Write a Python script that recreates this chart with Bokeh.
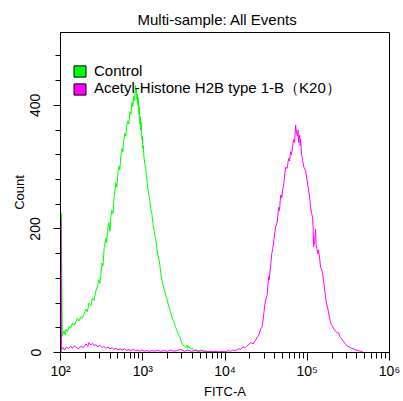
from bokeh.plotting import figure
from bokeh.models import Range1d, FixedTicker, Legend, LegendItem, ColumnDataSource
from bokeh.embed import file_html
from bokeh.resources import INLINE

# ---- data ----
control_fitc = [102, 102, 105, 107, 110, 114, 117, 122, 127, 134, 140, 147, 154, 160, 168, 177,
                185, 193, 204, 212, 222, 234, 245, 255, 270, 282, 293, 300, 310, 320, 328, 340,
                357, 365, 375, 388, 400, 410, 420, 435, 446, 460, 472, 485, 499, 513, 527, 542,
                557, 573, 590, 607, 624, 640, 660, 678, 698, 718, 738, 759, 780, 802, 815, 825,
                836, 848, 860, 872, 885, 897, 910, 922, 935, 948, 961, 975, 990, 1003, 1020, 1031,
                1060, 1091, 1120, 1153, 1190, 1220, 1254, 1290, 1327, 1380, 1443, 1480, 1525, 1580,
                1620, 1658, 1700, 1753, 1830, 1906, 1980, 2073, 2130, 2192, 2280, 2384, 2450, 2521,
                2620, 2742, 2820, 2899, 2980, 3066, 3200, 3334, 3450, 3525, 3650, 3834, 4000, 4200,
                4409, 4700, 5070, 5400, 5830, 6300, 6704, 7200, 7709, 8300, 8865, 10194]
control_count = [0, 225, 26, 30, 35, 28, 38, 33, 42, 40, 48, 44, 50, 55, 51, 58,
                 56, 62, 70, 66, 80, 76, 88, 84, 100, 108, 118, 112, 125, 145, 140, 170,
                 185, 178, 200, 210, 196, 220, 230, 225, 248, 262, 275, 268, 290, 302, 296, 318,
                 330, 325, 345, 355, 350, 368, 375, 370, 390, 385, 405, 398, 415, 408, 432, 420,
                 428, 410, 418, 400, 412, 385, 398, 370, 382, 360, 372, 345, 350, 330, 335, 318,
                 305, 296, 280, 265, 255, 245, 232, 225, 210, 196, 182, 170, 158, 150,
                 140, 128, 118, 110, 102, 92, 85, 75, 70, 64, 56, 50, 45, 40,
                 35, 28, 26, 20, 16, 12, 10, 8, 12, 7, 10, 5, 7, 3,
                 5, 2, 4, 2, 3, 1, 2, 1, 2, 0, 1, 0]

acetyl_fitc = [101, 101, 103, 107, 112, 118, 125, 132, 140, 148, 156, 165, 177, 190, 204, 215,
               222, 234, 245, 255, 270, 285, 300, 318, 335, 357, 378, 400, 425, 446, 472, 500,
               530, 560, 600, 640, 680, 720, 770, 820, 870, 920, 980, 1050, 1120, 1200, 1300,
               1400, 1500, 1650, 1800, 2000, 2200, 2400, 2600, 2900, 3200, 3500, 3900, 4300,
               4800, 5300, 5800, 6400, 7000, 7700, 8500, 9400, 10200, 11000, 11700, 12500, 13500,
               14500, 15500, 16500, 17800, 19000, 20500, 22000, 23500, 25000, 26000, 27100, 28300,
               29500, 30300, 31200, 32500, 33900, 34500, 35900, 37000, 37900, 39500, 41200, 43000,
               44900, 46000, 47500, 49000, 50200, 52000, 54600, 57000, 59300, 61000, 62700, 64500,
               66300, 68000, 70200, 72200, 74200, 76300, 77500, 78500, 80700, 82000, 83000, 85500,
               87800, 91000, 95400, 99000, 103800, 107000, 109800, 113000, 116000, 118000, 119300,
               123000, 126100, 128000, 131000, 134000, 137100, 142000, 145000, 149000, 153400,
               160000, 166700, 171000, 176300, 184000, 191700, 197000, 202700, 210000, 220500,
               230000, 239700, 250000, 262000, 275600, 290000, 310000, 335300, 360000, 390000,
               420000, 443300, 470000, 482000]
acetyl_count = [0, 215, 5, 8, 4, 9, 6, 10, 7, 11, 8, 6, 10, 8, 14, 10,
                16, 12, 15, 11, 13, 9, 12, 8, 10, 7, 9, 6, 8, 5, 7, 4,
                6, 4, 6, 3, 5, 3, 5, 3, 4, 2, 4, 2, 3, 2, 3,
                2, 4, 2, 3, 2, 4, 2, 3, 5, 2, 4, 2, 3,
                2, 3, 1, 2, 1, 2, 1, 2, 1, 3, 2, 4, 3,
                6, 5, 9, 8, 12, 16, 14, 20, 26, 30, 38, 42,
                60, 75, 85, 92, 123, 118, 140, 160, 166, 185, 203, 210,
                235, 230, 255, 250, 263, 275, 300, 298, 314, 310, 325, 320,
                332, 345, 340, 368, 355, 350, 360, 340, 352, 335, 345, 320,
                311, 300, 295, 280, 263, 250, 235, 225, 219, 200, 171,
                180, 200, 175, 168, 160, 166, 150, 138, 135, 129,
                110, 90, 80, 74, 60, 50, 45, 42, 38, 35,
                32, 32, 26, 22, 18, 14, 10, 8, 6, 4,
                3, 2, 1, 0]

series_names = ["Control", "Acetyl-Histone H2B type 1-B（K20）"]
series_colors = ["#00FF00", "#FF00FF"]

x_major = [1e2, 1e3, 1e4, 1e5, 1e6]
x_labels = ["10²", "10³", "10⁴", "10⁵", "10⁶"]
x_minor = [k * 10 ** e for e in range(2, 6) for k in range(2, 10)]
y_major = [0, 200, 400]
y_minor = [40, 80, 120, 160, 240, 280, 320, 360, 440, 480]

FONT = "Liberation Sans"

p = figure(width=400, height=401, x_axis_type="log",
           x_range=Range1d(100, 1e6), y_range=Range1d(0, 518),
           output_backend="svg", toolbar_location=None,
           title="Multi-sample: All Events",
           min_border_left=60, min_border_right=11, min_border_top=32, min_border_bottom=48)

p.title.align = "left"
p.title.offset = 77
p.title.text_font = FONT
p.title.text_font_size = "15px"
p.title.text_font_style = "normal"
p.title.text_color = "#000000"

p.xgrid.visible = False
p.ygrid.visible = False
p.outline_line_color = "#000000"
p.outline_line_width = 1
p.background_fill_color = "white"
p.border_fill_color = "white"

xa = p.xaxis[0]
xa.ticker = FixedTicker(ticks=x_major, minor_ticks=x_minor)
xa.major_label_overrides = {v: s for v, s in zip(x_major, x_labels)}
xa.axis_label = "FITC-A"
ya = p.yaxis[0]
ya.ticker = FixedTicker(ticks=y_major, minor_ticks=y_minor)
ya.axis_label = "Count"
ya.major_label_orientation = "vertical"

for ax in (xa, ya):
    ax.axis_line_color = "#000000"
    ax.major_tick_line_color = "#000000"
    ax.minor_tick_line_color = "#000000"
    ax.major_tick_in = 0
    ax.minor_tick_in = 0
    ax.major_tick_out = 7
    ax.minor_tick_out = 5
    ax.major_label_text_font = FONT
    ax.major_label_text_font_size = "14px"
    ax.major_label_text_color = "#000000"
    ax.axis_label_text_font = FONT
    ax.axis_label_text_font_size = "13px"
    ax.axis_label_text_font_style = "normal"
    ax.axis_label_text_color = "#000000"

xa.major_tick_out = 8
xa.minor_tick_out = 6
xa.major_label_standoff = 2
xa.axis_label_standoff = 2
ya.major_label_standoff = 13
ya.axis_label_standoff = 1

p.line(control_fitc, control_count, line_color=series_colors[0], line_width=1)
p.line(acetyl_fitc, acetyl_count, line_color=series_colors[1], line_width=1)

# legend swatches (renderers with an off-screen NaN row, only used for the legend)
nan = float("nan")
items = []
for name, col in zip(series_names, series_colors):
    src = ColumnDataSource(data=dict(l=[nan], r=[nan], t=[nan], b=[nan]))
    r = p.quad(left="l", right="r", top="t", bottom="b", source=src,
               fill_color=col, line_color="#000000", line_width=1)
    items.append(LegendItem(label=name, renderers=[r]))

legend = Legend(items=items, location=(12, 254))
legend.glyph_width = 15
legend.glyph_height = 14
legend.label_height = 14
legend.spacing = 0
legend.padding = 0
legend.margin = 0
legend.label_standoff = 7
legend.label_text_font = FONT
legend.label_text_font_size = "15px"
legend.label_text_color = "#000000"
legend.border_line_alpha = 0
legend.background_fill_alpha = 0
p.add_layout(legend)

open("out.html", "w").write(file_html(p, INLINE))
